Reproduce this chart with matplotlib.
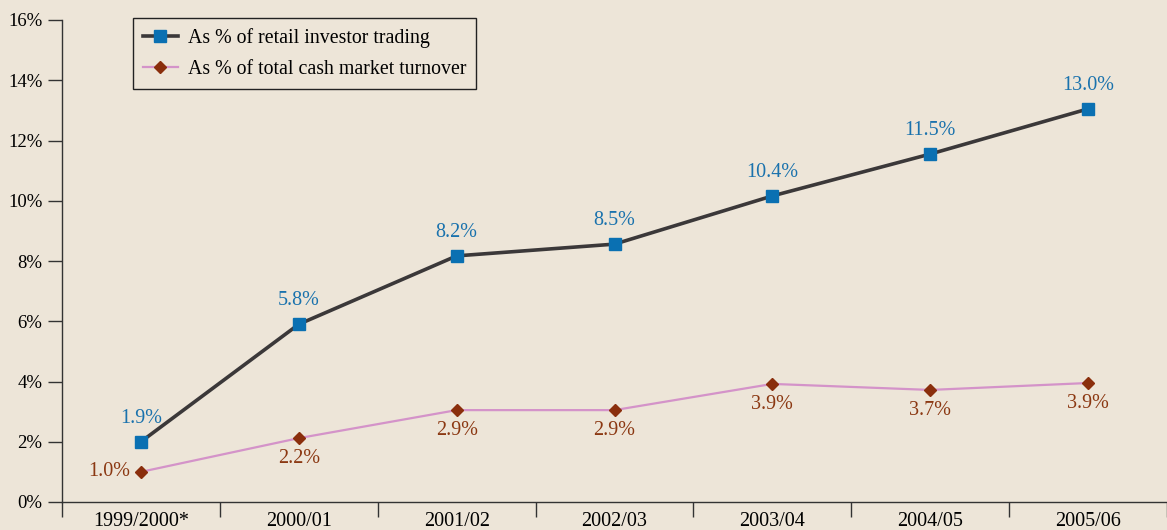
import numpy as np
import matplotlib.pyplot as plt

# data
periods = ["1999/2000*", "2000/01", "2001/02", "2002/03", "2003/04", "2004/05", "2005/06"]
retail = [2.0, 5.9, 8.17, 8.56, 10.16, 11.55, 13.05]
retail_labels = ["1.9%", "5.8%", "8.2%", "8.5%", "10.4%", "11.5%", "13.0%"]
total = [1.0, 2.12, 3.05, 3.05, 3.92, 3.72, 3.95]
total_labels = ["1.0%", "2.2%", "2.9%", "2.9%", "3.9%", "3.7%", "3.9%"]
yticks = [0, 2, 4, 6, 8, 10, 12, 14, 16]

bg = "#ede5d8"
plt.rcParams["font.family"] = ["Liberation Serif", "DejaVu Serif"]

fig = plt.figure(figsize=(11.67, 5.30), dpi=100, facecolor=bg)
ax = fig.add_axes([62 / 1167, 1 - 502 / 530, 1 - 62 / 1167, (502 - 20) / 530])
ax.set_facecolor(bg)

x = np.arange(len(periods))
ax.plot(x, retail, color="#3b3839", lw=2.6, marker="s", ms=9,
        mfc="#0a70b2", mec="#0a70b2", label="As % of retail investor trading", zorder=3)
ax.plot(x, total, color="#d493c9", lw=1.6, marker="D", ms=6,
        mfc="#8a2e0c", mec="#8a2e0c", label="As % of total cash market turnover", zorder=3)

for xi, v, s in zip(x, retail, retail_labels):
    ax.annotate(s, (xi, v), xytext=(0, 10), textcoords="offset points",
                ha="center", va="bottom", color="#1a72ad", fontsize=14.5)
for i, (xi, v, s) in enumerate(zip(x, total, total_labels)):
    if i == 0:
        ax.annotate(s, (xi, v), xytext=(-8, 0), textcoords="offset points",
                    ha="right", va="center", color="#8b3812", fontsize=14.5)
    else:
        ax.annotate(s, (xi, v), xytext=(0, -8), textcoords="offset points",
                    ha="center", va="top", color="#8b3812", fontsize=14.5)

ax.set_xlim(-0.5, len(periods) - 0.5)
ax.set_ylim(0, 16)
ax.set_yticks(yticks)
ax.set_yticklabels([f"{t}%" for t in yticks], fontsize=13.5)
ax.set_xticks(np.arange(len(periods) + 1) - 0.5)
ax.set_xticklabels([])
ax.set_xticks(x, minor=True)
ax.set_xticklabels(periods, minor=True, fontsize=14.5)
ax.tick_params(axis="x", which="major", length=11, width=1, color="#333333")
ax.tick_params(axis="x", which="minor", length=0, pad=7)
ax.tick_params(axis="y", length=10, width=1, color="#333333", pad=4)

for side in ["top", "right"]:
    ax.spines[side].set_visible(False)
for side in ["left", "bottom"]:
    ax.spines[side].set_color("#333333")
    ax.spines[side].set_linewidth(1)
ax.spines["left"].set_bounds(0, 16)

leg = ax.legend(loc="upper left", bbox_to_anchor=(71 / 1105, 1.004), fontsize=14.3,
                frameon=True, fancybox=False, edgecolor="#222222", facecolor=bg,
                framealpha=1, handlelength=1.75, handletextpad=0.5, borderpad=0.5,
                borderaxespad=0, labelspacing=0.6)
leg.get_frame().set_linewidth(1)

fig.savefig("out.png", dpi=100, facecolor=bg)
